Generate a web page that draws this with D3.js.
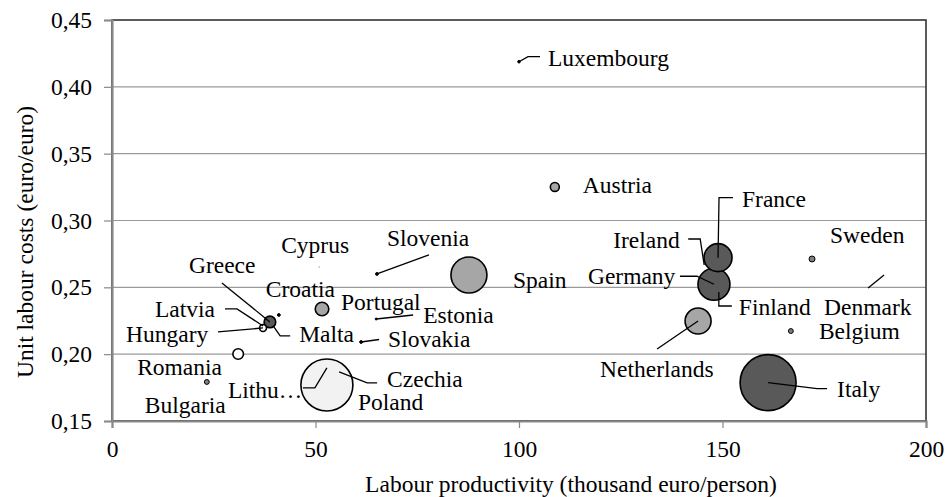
<!DOCTYPE html>
<html>
<head>
<meta charset="utf-8">
<script src="https://cdn.jsdelivr.net/npm/d3@7"></script>
<style>
  body { margin: 0; background: #fff; }
  svg { display: block; font-family: "Liberation Serif", "Times New Roman", serif; }
</style>
</head>
<body>
<div id="chart"></div>
<script>
// --- data
const countries = ['Luxembourg', 'Austria', 'Slovenia', 'Cyprus', 'Spain', 'France', 'Ireland', 'Germany',
  'Finland', 'Netherlands', 'Sweden', 'Denmark', 'Belgium', 'Italy', 'Czechia', 'Poland', 'Lithuania',
  'Bulgaria', 'Romania', 'Hungary', 'Latvia', 'Greece', 'Croatia', 'Malta', 'Portugal', 'Estonia', 'Slovakia'];
const productivity = [100.0, 108.8, 65.1, 50.9, 87.7, 148.9, 145.5, 147.9,
  149.1, 144.0, 172.0, 189.7, 166.8, 161.2, 55.8, 52.8, 52.8,
  23.3, 31.0, 37.1, 37.1, 38.8, 41.0, 39.6, 51.6, 64.9, 61.2];
const unitLabourCosts = [0.4188, 0.3251, 0.2600, 0.2652, 0.2592, 0.2722, 0.2667, 0.2523,
  0.2465, 0.2248, 0.2712, 0.2592, 0.2173, 0.1787, 0.1867, 0.1769, 0.1897,
  0.1792, 0.2001, 0.2196, 0.2211, 0.2241, 0.2293, 0.2211, 0.2338, 0.2263, 0.2091];
const bubbleSize = [1.7, 20, 2, 0.5, 324, 196, 0, 256,
  0, 169, 9, 0, 6, 784, 0, 676, 0,
  6, 28, 12, 0, 34, 2, 0, 46, 1, 2];
const colourGroup = ['F', 'B', 'F', 'G', 'B', 'A', 'A', 'A',
  'A', 'B', 'E', 'F', 'E', 'A', 'F', 'C', 'F',
  'E', 'D', 'D', 'F', 'A', 'F', 'F', 'B', 'F', 'F'];

const xTicks = [0, 50, 100, 150, 200];
const yTicks = [0.15, 0.20, 0.25, 0.30, 0.35, 0.40, 0.45];
const xTitle = 'Labour productivity (thousand euro/person)';
const yTitle = 'Unit labour costs (euro/euro)';

// --- label placement (pixel offsets from the bubble centre, like moved Excel data labels)
const labelLayout = {
  Luxembourg: { dx: 29, dy: 4, leader: [[0, 0], [9, -5], [21, -5]] },
  Austria: { dx: 28, dy: 6 },
  Slovenia: { dx: 10, dy: -28, leader: [[0, 0], [52, -19]] },
  Cyprus: { dx: -38, dy: -14 },
  Spain: { dx: 44, dy: 13 },
  France: { dx: 24, dy: -51, leader: [[0, 0], [1, -60], [15, -60]] },
  Ireland: { dx: -91, dy: -17, leader: [[0, 0], [-4, -26], [-16, -26]] },
  Germany: { dx: -126, dy: 0, leader: [[0, 0], [-17, -8], [-34, -8]] },
  Finland: { dx: 20, dy: 23, leader: [[0, 0], [0, 14], [13, 14]] },
  Netherlands: { dx: -98, dy: 56, leader: [[0, 0], [-41, 28]] },
  Sweden: { dx: 18, dy: -16 },
  Denmark: { dx: -60, dy: 40, leader: [[0, 0], [-16, 13]] },
  Belgium: { dx: 28, dy: 8 },
  Italy: { dx: 69, dy: 14, leader: [[0, 0], [49, 6], [59, 6]] },
  Czechia: { dx: 48, dy: 15, leader: [[0, 0], [28, 11], [38, 11]] },
  Poland: { dx: 31, dy: 25 },
  Lithuania: { dx: -99, dy: 30, text: 'Lithu…', leader: [[0, 0], [-12, 20], [-24, 20]] },
  Bulgaria: { dx: -62, dy: 31 },
  Romania: { dx: -101, dy: 21 },
  Hungary: { dx: -137, dy: 14, leader: [[0, 0], [-45, 4]] },
  Latvia: { dx: -108, dy: -9, leader: [[0, 0], [-26, -17], [-38, -17]] },
  Greece: { dx: -81, dy: -49, leader: [[0, 0], [-48, -39]] },
  Croatia: { dx: -13, dy: -18 },
  Malta: { dx: 26, dy: 16, leader: [[0, 0], [7, 10], [17, 10]] },
  Portugal: { dx: 19, dy: 1 },
  Estonia: { dx: 47, dy: 4, leader: [[0, 0], [37, -4]] },
  Slovakia: { dx: 27, dy: 5, leader: [[0, 0], [18, -2.5]] }
};

// --- setup
const width = 946;
const height = 497;
const plot = { left: 112, right: 926, top: 20, bottom: 421 };
const fontSize = 23.5;

const data = countries.map((name, i) => ({
  name,
  x: productivity[i],
  y: unitLabourCosts[i],
  size: bubbleSize[i],
  group: colourGroup[i]
}));

const x = d3.scaleLinear().domain([0, 200]).range([plot.left, plot.right]);
const y = d3.scaleLinear().domain([0.15, 0.45]).range([plot.bottom, plot.top]);
const r = d3.scaleSqrt().domain([0, 784]).range([0, 28]);
const fill = d3.scaleOrdinal()
  .domain(['A', 'B', 'C', 'D', 'E', 'F', 'G'])
  .range(['#595959', '#a6a6a6', '#f2f2f2', '#ffffff', '#7f7f7f', '#000000', '#a0a0a0']);

const comma = d3.formatLocale({ decimal: ',', thousands: '.', grouping: [3], currency: ['', '€'] });
const fmtY = comma.format('.2f');

const svg = d3.select('#chart')
  .append('svg')
  .attr('width', width)
  .attr('height', height)
  .attr('viewBox', [0, 0, width, height]);

// --- gridlines
svg.append('g')
  .selectAll('line')
  .data(yTicks.slice(1, -1))
  .join('line')
    .attr('x1', plot.left)
    .attr('x2', plot.right)
    .attr('y1', d => y(d))
    .attr('y2', d => y(d))
    .attr('stroke', '#9a9a9a')
    .attr('stroke-width', 1.2);

// --- plot border (top/right dark)
svg.append('rect')
  .attr('x', plot.left)
  .attr('y', plot.top)
  .attr('width', plot.right - plot.left)
  .attr('height', plot.bottom - plot.top)
  .attr('fill', 'none')
  .attr('stroke', '#333')
  .attr('stroke-width', 1.6);

// --- axes
const yAxis = svg.append('g')
  .attr('transform', `translate(${plot.left},0)`)
  .call(d3.axisLeft(y).tickValues(yTicks).tickFormat(fmtY).tickSize(8).tickPadding(12));

const xAxis = svg.append('g')
  .attr('transform', `translate(0,${plot.bottom})`)
  .call(d3.axisBottom(x).tickValues(xTicks).tickSize(7).tickPadding(12));

[xAxis, yAxis].forEach(ax => {
  ax.select('.domain').attr('stroke', '#898989').attr('stroke-width', 2.2);
  ax.selectAll('.tick line').attr('stroke', '#898989').attr('stroke-width', 1.2);
  ax.selectAll('.tick text')
    .attr('fill', '#000')
    .attr('font-family', '"Liberation Serif", serif')
    .attr('font-size', fontSize);
});

// --- bubbles (biggest first so small ones stay visible)
const bubbles = data.filter(d => d.size > 0).sort((a, b) => b.size - a.size);

svg.append('g')
  .selectAll('circle')
  .data(bubbles)
  .join('circle')
    .attr('cx', d => x(d.x))
    .attr('cy', d => y(d.y))
    .attr('r', d => r(d.size))
    .attr('fill', d => fill(d.group))
    .attr('stroke', d => d.group === 'G' ? 'none' : '#000')
    .attr('stroke-width', d => r(d.size) > 3 ? 1.6 : 1);

// --- leader lines
const line = d3.line();
svg.append('g')
  .selectAll('path')
  .data(data.filter(d => labelLayout[d.name].leader))
  .join('path')
    .attr('d', d => line(labelLayout[d.name].leader.map(([dx, dy]) => [x(d.x) + dx, y(d.y) + dy])))
    .attr('fill', 'none')
    .attr('stroke', '#000')
    .attr('stroke-width', 1.3);

// --- labels
svg.append('g')
  .selectAll('text')
  .data(data)
  .join('text')
    .attr('x', d => x(d.x) + labelLayout[d.name].dx)
    .attr('y', d => y(d.y) + labelLayout[d.name].dy)
    .attr('font-size', fontSize)
    .attr('fill', '#000')
    .text(d => labelLayout[d.name].text || d.name);

// --- axis titles
svg.append('text')
  .attr('x', 571)
  .attr('y', 492)
  .attr('text-anchor', 'middle')
  .attr('font-size', fontSize)
  .attr('fill', '#000')
  .text(xTitle);

svg.append('text')
  .attr('transform', 'translate(33,242) rotate(-90)')
  .attr('text-anchor', 'middle')
  .attr('font-size', fontSize)
  .attr('fill', '#000')
  .text(yTitle);
</script>
</body>
</html>
